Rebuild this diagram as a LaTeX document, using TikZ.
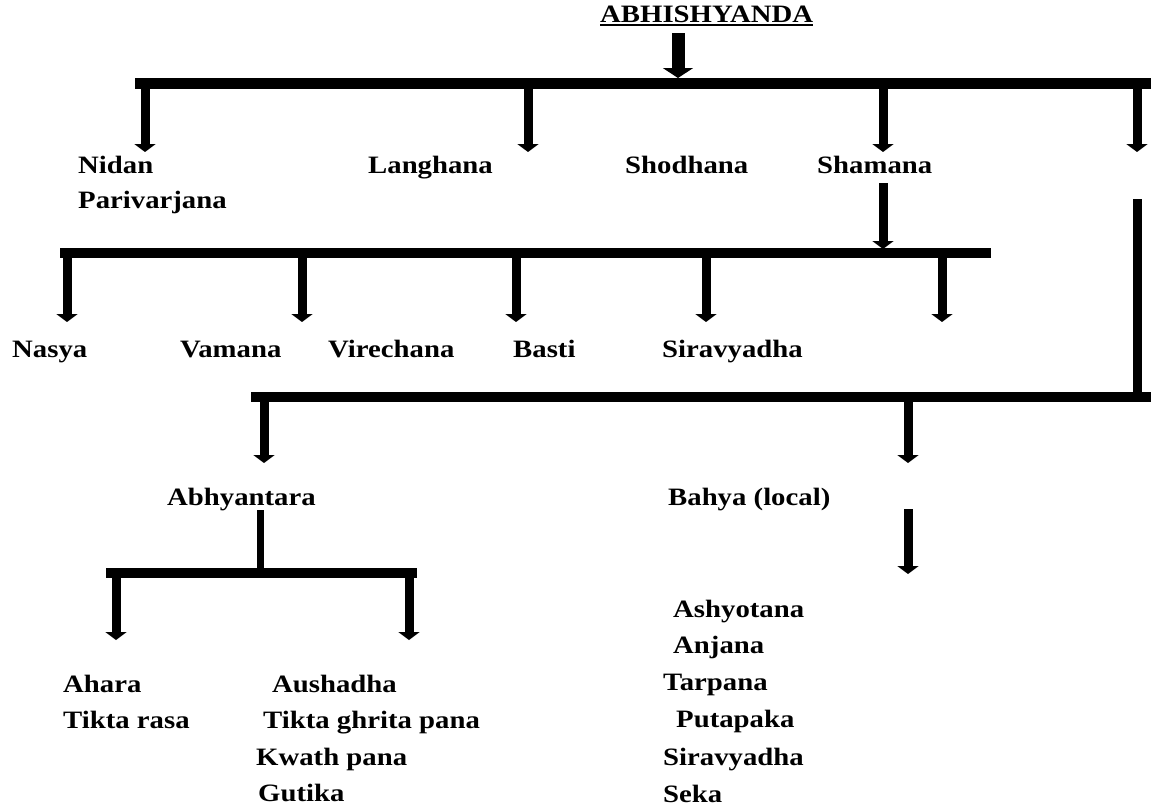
\documentclass[tikz,border=0pt]{standalone}
\usepackage{fontspec}
\setmainfont{Liberation Serif}[FakeStretch=1.15]
\usetikzlibrary{arrows.meta}
\begin{document}
\begin{tikzpicture}[x=1pt,y=-1pt,
  lbl/.style={anchor=base west,inner sep=0pt,font=\fontsize{25}{29}\selectfont\bfseries},
  bar/.style={line width=11pt,line cap=butt},
  subarrow/.style={line width=9pt,-{Triangle[width=21pt,length=8pt]}},
  bigarrow/.style={line width=13pt,-{Triangle[width=30pt,length=10pt]}},
  stemline/.style={line width=9pt},
  thinstem/.style={line width=7pt}]
\useasboundingbox (0,0) rectangle (1151,807);

% title
\node[lbl] (title) at (600,22) {ABHISHYANDA};
\draw[line width=1.5pt] ([yshift=-3pt]title.base west) -- ([yshift=-3pt]title.base east);
\coordinate (m0) at (678,33);
\coordinate (m1) at (678,78);
\draw[bigarrow] (m0) -- (m1);

% level 1 bar
\coordinate (b1l) at (135,83);
\coordinate (b1r) at (1151,83);
\draw[bar] (b1l) -- (b1r);
\foreach \n/\x in {a/145,b/528,c/883,d/1137}{
  \coordinate (s1\n) at (\x,83);
  \coordinate (e1\n) at (\x,152);
  \draw[subarrow] (s1\n) -- (e1\n);
}
\node[lbl] (nidan) at (78,173) {Nidan};
\node[lbl] (pari) at (78,208) {Parivarjana};
\node[lbl] (langhana) at (368,173) {Langhana};
\node[lbl] (shodhana) at (625,173) {Shodhana};
\node[lbl] (shamana) at (817,173) {Shamana};

% Shamana branch
\coordinate (sh0) at (883,183);
\coordinate (sh1) at (883,249);
\draw[subarrow] (sh0) -- (sh1);
\coordinate (b2l) at (60,253);
\coordinate (b2r) at (991,253);
\draw[line width=10pt] (b2l) -- (b2r);
\foreach \n/\x in {a/67,b/302,c/516,d/706,e/942}{
  \coordinate (s2\n) at (\x,253);
  \coordinate (e2\n) at (\x,322);
  \draw[subarrow] (s2\n) -- (e2\n);
}
\node[lbl] (nasya) at (12,357) {Nasya};
\node[lbl] (vamana) at (180,357) {Vamana};
\node[lbl] (virechana) at (328,357) {Virechana};
\node[lbl] (basti) at (513,357) {Basti};
\node[lbl] (sira1) at (662,357) {Siravyadha};

% right branch
\coordinate (r0) at (1137,199);
\coordinate (r1) at (1137,397);
\draw[stemline] (r0) -- (r1);
\coordinate (b3l) at (251,397);
\coordinate (b3r) at (1151,397);
\draw[line width=10pt] (b3l) -- (b3r);
\foreach \n/\x in {a/264,b/908}{
  \coordinate (s3\n) at (\x,397);
  \coordinate (e3\n) at (\x,463);
  \draw[subarrow] (s3\n) -- (e3\n);
}
\node[lbl] (abhy) at (167,505) {Abhyantara};
\node[lbl] (bahya) at (668,505) {Bahya (local)};

% Abhyantara branch
\coordinate (ab0) at (260,510);
\coordinate (ab1) at (260,573);
\draw[thinstem] (ab0) -- (ab1);
\coordinate (b4l) at (106,573);
\coordinate (b4r) at (417,573);
\draw[line width=10pt] (b4l) -- (b4r);
\foreach \n/\x in {a/116,b/409}{
  \coordinate (s4\n) at (\x,573);
  \coordinate (e4\n) at (\x,640);
  \draw[subarrow] (s4\n) -- (e4\n);
}
\node[lbl] (ahara) at (63,692) {Ahara};
\node[lbl] (tikta) at (63,728) {Tikta rasa};
\node[lbl] (aush) at (272,692) {Aushadha};
\node[lbl] (ghrita) at (263,728) {Tikta ghrita pana};
\node[lbl] (kwath) at (256,765) {Kwath pana};
\node[lbl] (gutika) at (258,801) {Gutika};

% Bahya branch
\coordinate (bh0) at (908,509);
\coordinate (bh1) at (908,574);
\draw[subarrow] (bh0) -- (bh1);
\node[lbl] (ashyo) at (673,617) {Ashyotana};
\node[lbl] (anjana) at (673,653) {Anjana};
\node[lbl] (tarpana) at (663,690) {Tarpana};
\node[lbl] (puta) at (676,727) {Putapaka};
\node[lbl] (sira2) at (663,765) {Siravyadha};
\node[lbl] (seka) at (663,802) {Seka};
\end{tikzpicture}
\end{document}
